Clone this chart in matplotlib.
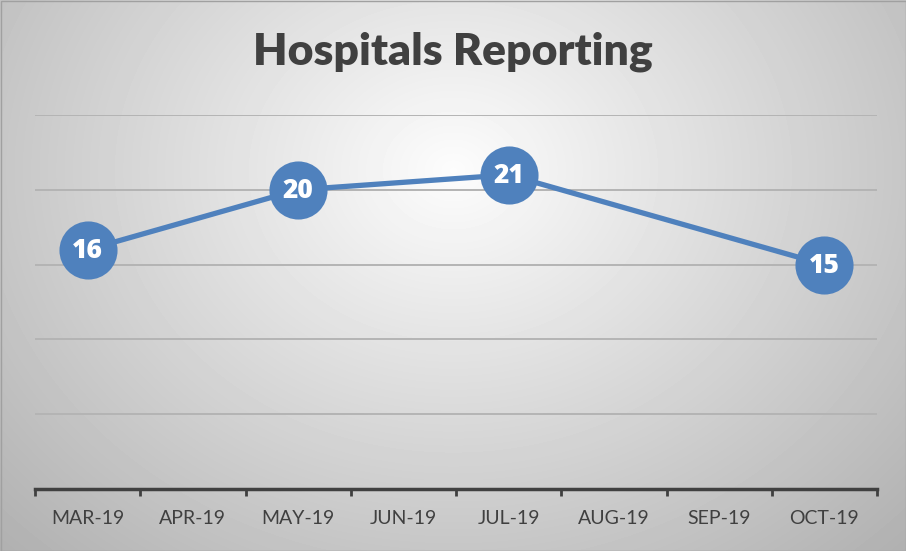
import numpy as np
import matplotlib.pyplot as plt
from matplotlib.patches import Rectangle

# data
months = ["MAR-19", "APR-19", "MAY-19", "JUN-19", "JUL-19", "AUG-19", "SEP-19", "OCT-19"]
report_idx = [0, 2, 4, 7]
reported = [16, 20, 21, 15]

blue = "#4f81bd"
dark = "#404040"

fig = plt.figure(figsize=(9.06, 5.51), dpi=100)

# radial gradient background
bg = fig.add_axes([0, 0, 1, 1])
yy, xx = np.mgrid[0:551, 0:906]
d = np.sqrt(((xx - 453) / 600.0) ** 2 + ((yy - 170) / 500.0) ** 2)
shade = np.clip(0.99 - 0.28 * d, 0, 1)
bg.imshow(shade, cmap="gray", vmin=0, vmax=1, aspect="auto", extent=[0, 906, 551, 0])
bg.add_patch(Rectangle((0.5, 0.5), 905, 550, fill=False, edgecolor="#a0a0a0", lw=1))
bg.set_xlim(0, 906)
bg.set_ylim(551, 0)
bg.axis("off")

# plot area in pixel coords: x 35..877, y 115..489
ax = fig.add_axes([35 / 906, 1 - 489 / 551, (877 - 35) / 906, (489 - 115) / 551])
ax.patch.set_alpha(0)
ax.set_xlim(-0.5, 7.5)
ax.set_ylim(0, 25)

for v in [5, 10, 15, 20, 25]:
    ax.axhline(v, color="#b4b4b4", lw=1.4, zorder=1)

ax.plot(report_idx, reported, color=blue, lw=3.8, zorder=3, solid_capstyle="round")
ax.scatter(report_idx, reported, s=1750, color=blue, zorder=4, linewidths=0)
for x, v in zip(report_idx, reported):
    ax.text(x, v - 0.1, str(v), color="white", fontsize=19, fontweight="heavy",
            family=["Open Sans", "DejaVu Sans"], ha="center", va="center", zorder=5)

for s in ["top", "right", "left"]:
    ax.spines[s].set_visible(False)
ax.spines["bottom"].set_color(dark)
ax.spines["bottom"].set_linewidth(2.5)
ax.set_yticks([])
ax.set_xticks(range(len(months)))
ax.set_xticklabels(months, fontsize=14, color=dark, family=["Lato", "DejaVu Sans"])
ax.tick_params(axis="x", which="major", length=0, pad=15)
ax.set_xticks(np.arange(-0.5, 8, 1), minor=True)
ax.tick_params(axis="x", which="minor", length=5, width=2, color=dark, direction="out")

fig.text(0.5, 1 - 52 / 551, "Hospitals Reporting", ha="center", va="center",
         fontsize=32, fontweight="heavy", color=dark, family=["Lato", "DejaVu Sans"])

fig.savefig("out.png", dpi=100)
